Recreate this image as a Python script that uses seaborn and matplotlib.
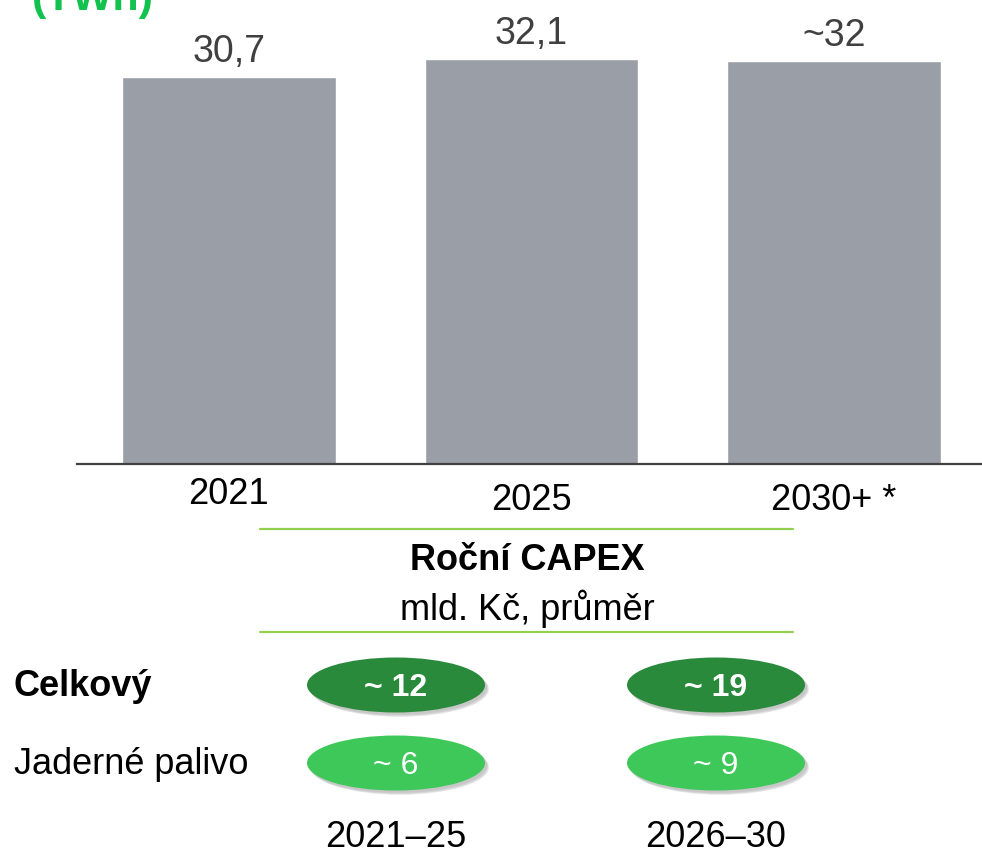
import matplotlib
matplotlib.use("Agg")
import matplotlib.pyplot as plt
import seaborn as sns
from matplotlib.patches import Ellipse
from matplotlib.lines import Line2D
from matplotlib.transforms import ScaledTranslation

# ------------------------
# Data
# ------------------------
YEARS = ["2021", "2025", "2030+ *"]
PRODUCTION_TWH = [30.7, 32.1, 32.0]
PRODUCTION_LABELS = ["30,7", "32,1", "~32"]

PERIODS = ["2021–25", "2026–30"]
ROWS = ["Celkový", "Jaderné palivo"]
CAPEX_TOTAL = [12, 19]
CAPEX_FUEL = [6, 9]

UNIT_TITLE = "(TWh)"
CAPEX_TITLE = "Roční CAPEX"
CAPEX_UNIT = "mld. Kč, průměr"

# ------------------------
# Style
# ------------------------
BAR_GRAY = "#9a9ea6"
DARK_GREEN = "#288a3a"
LIGHT_GREEN = "#3ec85a"
LINE_GREEN = "#92d050"
TITLE_GREEN = "#12c24e"

sns.set_theme(style="white")
plt.rcParams["font.family"] = ["Liberation Sans", "DejaVu Sans"]

W, H = 982, 849
fig = plt.figure(figsize=(W / 100, H / 100), dpi=100)


def fx(px):
    return px / W


def fy(py):
    return 1 - py / H


# ------------------------
# Bar chart (production)
# ------------------------
ax = fig.add_axes([fx(77), fy(464), fx(905), 464 / H])
sns.barplot(x=YEARS, y=PRODUCTION_TWH, color=BAR_GRAY, saturation=1,
            width=0.707, ax=ax)
ax.set_xlim(-0.502, 2.489)
ax.set_ylim(0, 36.8)
for side in ["left", "right", "top"]:
    ax.spines[side].set_visible(False)
ax.spines["bottom"].set_color("#404040")
ax.spines["bottom"].set_linewidth(1.6)
ax.set_yticks([])
ax.set_ylabel("")
ax.tick_params(axis="x", length=0, pad=9, labelsize=26, labelcolor="black")
ax.bar_label(ax.containers[0], labels=PRODUCTION_LABELS, padding=5,
             fontsize=27, color="#404040")

# the later years sit a bit lower in the original
for lbl in ax.get_xticklabels()[1:]:
    lbl.set_transform(lbl.get_transform() +
                      ScaledTranslation(0, -0.07, fig.dpi_scale_trans))

# cut-off unit title at top
fig.text(fx(32), fy(10), UNIT_TITLE, color=TITLE_GREEN, fontsize=31,
         fontweight="bold", ha="left", va="baseline")

# ------------------------
# CAPEX header
# ------------------------
for yl in (529, 632):
    fig.add_artist(Line2D([fx(260), fx(793)], [fy(yl), fy(yl)],
                          color=LINE_GREEN, lw=1.6))
fig.text(fx(527), fy(560), CAPEX_TITLE, fontsize=26, fontweight="bold",
         ha="center", va="center", color="black")
fig.text(fx(527), fy(609), CAPEX_UNIT, fontsize=26,
         ha="center", va="center", color="black")

# ------------------------
# CAPEX bubbles
# ------------------------
bx = fig.add_axes([fx(236), fy(802), 640 / W, 156 / H])
bx.set_xlim(-0.5, 1.5)
bx.set_ylim(1.5, -0.5)
bx.set_facecolor("none")
for s in bx.spines.values():
    s.set_visible(False)

ew, eh = 178 / 320, 55 / 78
rows = [(CAPEX_TOTAL, DARK_GREEN, "bold"), (CAPEX_FUEL, LIGHT_GREEN, "normal")]
for r, (vals, col, weight) in enumerate(rows):
    for c, v in enumerate(vals):
        for k, a in enumerate((0.10, 0.14, 0.18)):
            shadow = Ellipse((c + 0.006 + 0.003 * k, r + 0.03 + 0.012 * k),
                             ew, eh, facecolor="#6a6a6a", edgecolor="none",
                             alpha=a)
            bx.add_patch(shadow)
        bx.add_patch(Ellipse((c, r), ew, eh, facecolor=col, edgecolor="none"))
        bx.text(c, r, f"~ {v}", color="white", fontsize=23, fontweight=weight,
                ha="center", va="center_baseline")

bx.set_xticks(range(len(PERIODS)))
bx.set_xticklabels(PERIODS)
bx.set_yticks(range(len(ROWS)))
bx.set_yticklabels(ROWS)
bx.tick_params(axis="x", length=0, pad=13, labelsize=26, labelcolor="black")
bx.tick_params(axis="y", length=0, pad=(236 - 14) * 0.72, labelsize=26,
               labelcolor="black")
for lbl in bx.get_yticklabels():
    lbl.set_horizontalalignment("left")
    lbl.set_transform(lbl.get_transform() +
                      ScaledTranslation(0, 0.02, fig.dpi_scale_trans))
bx.get_yticklabels()[0].set_fontweight("bold")

fig.savefig("out.png", dpi=100, facecolor="white")
